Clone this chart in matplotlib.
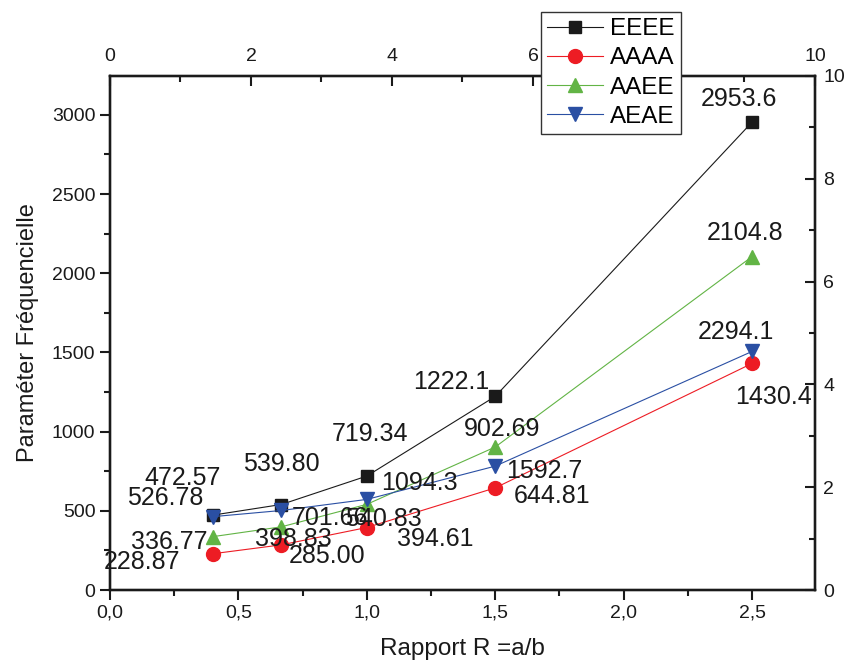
import matplotlib
matplotlib.use("Agg")
import matplotlib.pyplot as plt
from matplotlib.ticker import MultipleLocator, FuncFormatter

plt.rcParams['font.family'] = ['Liberation Sans', 'DejaVu Sans']

# rapport a/b
ratio = [0.4, 0.667, 1.0, 1.5, 2.5]

# frequency parameter for each boundary condition
eeee = [472.57, 539.80, 719.34, 1222.1, 2953.6]
aaaa = [228.87, 285.00, 394.61, 644.81, 1430.4]
aaee = [336.77, 398.83, 540.83, 902.69, 2104.8]
aeae = [463, 502, 572, 782, 1506]

# printed values next to each point
eeee_labels = ["472.57", "539.80", "719.34", "1222.1", "2953.6"]
aaaa_labels = ["228.87", "285.00", "394.61", "644.81", "1430.4"]
aaee_labels = ["336.77", "398.83", "540.83", "902.69", "2104.8"]
aeae_labels = ["526.78", "701.66", "1094.3", "1592.7", "2294.1"]

series = [
    ("EEEE", eeee, eeee_labels, "#1a1a1a", "s", 8.5,
     [(-30, -37), (0, -41), (3, -42), (-44, -14), (-13, -23)]),
    ("AAAA", aaaa, aaaa_labels, "#ed1c24", "o", 10,
     [(-71, 8), (46, 11), (68, 11), (57, 8), (21, 34)]),
    ("AAEE", aaee, aaee_labels, "#62b445", "^", 10,
     [(-43, 5), (12, 12), (17, 15), (7, -18), (-7, -24)]),
    ("AEAE", aeae, aeae_labels, "#2a4fa3", "v", 10,
     [(-48, -19), (49, 8), (53, -16), (49, 5), (-16, -19)]),
]

fig = plt.figure(figsize=(8.5, 6.66), dpi=100)
ax = fig.add_axes([0.1294, 0.1141, 0.8294, 0.7718])

handles = []
for name, vals, labels, color, marker, ms, offs in series:
    h, = ax.plot(ratio, vals, color=color, lw=0.8, marker=marker, ms=ms,
                 mec=color, mfc=color, label=name, zorder=3)
    handles.append(h)
    for x, y, txt, (dx, dy) in zip(ratio, vals, labels, offs):
        ax.annotate(txt, (x, y), xytext=(dx * 0.72, -dy * 0.72),
                    textcoords="offset points", ha="center", va="center",
                    fontsize=18, color="#1a1a1a", zorder=4)

ax.set_xlim(0, 2.745)
ax.set_ylim(0, 3245)
ax.xaxis.set_major_locator(MultipleLocator(0.5))
ax.xaxis.set_minor_locator(MultipleLocator(0.25))
ax.yaxis.set_major_locator(MultipleLocator(500))
ax.yaxis.set_minor_locator(MultipleLocator(250))
ax.xaxis.set_major_formatter(FuncFormatter(lambda v, p: f"{v:.1f}".replace(".", ",")))
ax.tick_params(which="both", direction="out", labelsize=14, width=1.5,
               colors="#1a1a1a")
ax.tick_params(which="major", length=7)
ax.tick_params(which="minor", length=4)
ax.set_xlabel("Rapport R =a/b", fontsize=17.5, color="#1a1a1a", labelpad=12)
ax.set_ylabel("Paraméter Fréquencielle", fontsize=17, color="#1a1a1a", labelpad=9)

# secondary scales on top and right
ax_top = ax.twiny()
ax_top.set_xlim(0, 10)
ax_top.xaxis.set_major_locator(MultipleLocator(2))
ax_top.xaxis.set_minor_locator(MultipleLocator(1))
ax_top.tick_params(which="both", direction="in", labelsize=14, width=1.5,
                   colors="#1a1a1a", pad=8)
ax_top.tick_params(which="major", length=7)
ax_top.tick_params(which="minor", length=4)

ax_right = ax.twinx()
ax_right.set_ylim(0, 10)
ax_right.yaxis.set_major_locator(MultipleLocator(2))
ax_right.yaxis.set_minor_locator(MultipleLocator(1))
ax_right.tick_params(which="both", direction="in", labelsize=14, width=1.5,
                     colors="#1a1a1a", pad=6)
ax_right.tick_params(which="major", length=7)
ax_right.tick_params(which="minor", length=4)

for a in (ax, ax_top, ax_right):
    for s in a.spines.values():
        s.set_linewidth(1.6)
        s.set_color("#1a1a1a")

leg = fig.legend(handles=handles, loc="upper left",
                 bbox_to_anchor=(0.6365, 0.982), fontsize=17.5,
                 handlelength=2.3, handletextpad=0.3, borderpad=0.25,
                 labelspacing=0.3, borderaxespad=0, fancybox=False,
                 framealpha=1)
leg.get_frame().set_edgecolor("#333333")
leg.get_frame().set_linewidth(1.0)

fig.savefig("out.png", dpi=100)
